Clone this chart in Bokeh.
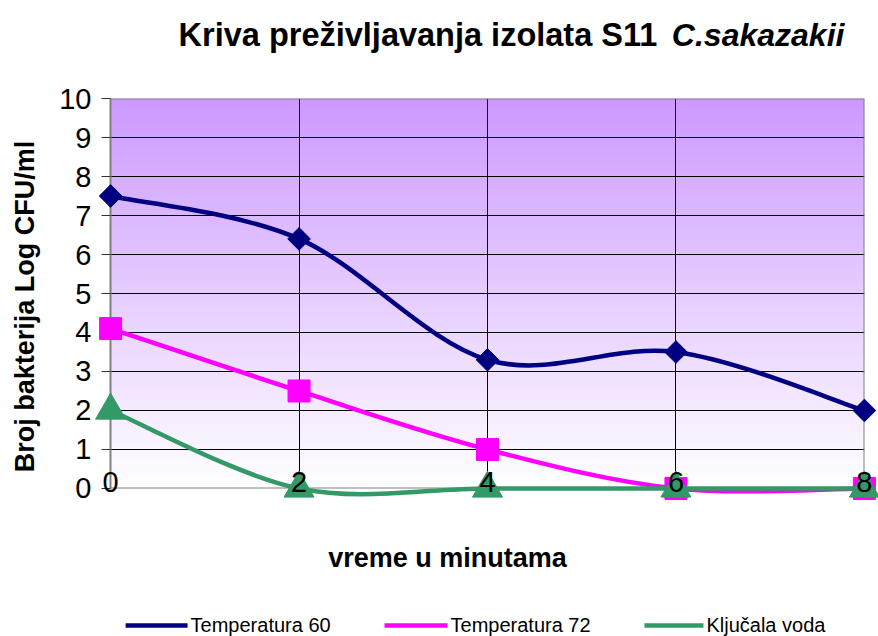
import numpy as np
from bokeh.plotting import figure
from bokeh.models import Range1d, Grid, FixedTicker
from bokeh.core.properties import value
from bokeh.embed import file_html
from bokeh.resources import INLINE

# ---------------- data ----------------
minutes = [0, 2, 4, 6, 8]
x_tick_labels = ["0", "2", "4", "6", "8"]
y_ticks = [0, 1, 2, 3, 4, 5, 6, 7, 8, 9, 10]
temp60 = [7.5, 6.4, 3.3, 3.5, 2.0]
temp72 = [4.1, 2.5, 1.0, 0.0, 0.0]
voda = [2.0, 0.0, 0.0, 0.0, 0.0]
series_names = ["Temperatura 60", "Temperatura 72", "Ključala voda"]
title_main = "Kriva preživljavanja izolata S11"
title_species = "C.sakazakii"
x_title = "vreme u minutama"
y_title = "Broj bakterija Log CFU/ml"

FONT = "Liberation Sans"
GRAY = "#808080"

# ---------------- layout (pixels) ----------------
W, H = 878, 636
FL, FR, FT, FB = 110, 864, 98, 488       # frame edges in page pixels
X0, X1, Y0, Y1 = 0.0, 8.0, 0.0, 10.0


def sx(px):  # page px -> data x
    return X0 + (px - FL) * (X1 - X0) / (FR - FL)


def sy(py):  # page px -> data y
    return Y0 + (FB - py) * (Y1 - Y0) / (FB - FT)


p = figure(width=W, height=H, output_backend="svg", toolbar_location=None,
           x_range=Range1d(X0 - 0.001, X1 + 0.001),
           y_range=Range1d(Y0 - 0.001, Y1 + 0.001),
           min_border_left=FL, min_border_right=W - FR, min_border_top=FT,
           min_border_bottom=H - FB, background_fill_color="white",
           border_fill_color="white", outline_line_color=None)

# gradient plot-area background (purple top -> white bottom)
n = 256
t = np.linspace(0.0, 1.0, n)
top = np.array([204, 153, 255], dtype=float)
bot = np.array([255, 255, 255], dtype=float)
rgb = bot + (top - bot) * t[:, None]
img = np.empty((n, 1), dtype=np.uint32)
view = img.view(dtype=np.uint8).reshape((n, 1, 4))
view[:, 0, 0:3] = np.round(rgb).astype(np.uint8)
view[:, 0, 3] = 255
p.image_rgba(image=[img], x=X0, y=Y0, dw=X1 - X0, dh=Y1 - Y0, level="image")

# grids
p.xgrid.ticker = FixedTicker(ticks=minutes[1:-1])
p.xgrid.grid_line_color = "black"
p.xgrid.grid_line_width = 1
p.ygrid.ticker = FixedTicker(ticks=y_ticks[1:-1])
p.ygrid.grid_line_color = "black"
p.ygrid.grid_line_width = 1
p.add_layout(Grid(dimension=1, ticker=FixedTicker(ticks=[y_ticks[0], y_ticks[-1]]),
                  grid_line_color=GRAY, grid_line_width=2))
p.add_layout(Grid(dimension=0, ticker=FixedTicker(ticks=[minutes[-1]]),
                  grid_line_color=GRAY, grid_line_width=2))

# y axis
p.yaxis.ticker = FixedTicker(ticks=y_ticks)
p.yaxis.axis_line_color = GRAY
p.yaxis.axis_line_width = 2
p.yaxis.major_tick_out = 9
p.yaxis.major_tick_in = 0
p.yaxis.major_tick_line_color = "#333333"
p.yaxis.minor_tick_line_color = None
p.yaxis.major_label_standoff = 10
p.yaxis.major_label_text_font = FONT
p.yaxis.major_label_text_font_size = "29px"
p.yaxis.major_label_text_color = "black"

# x axis (labels sit on the zero line, drawn on top of the series)
p.xaxis.ticker = FixedTicker(ticks=minutes)
p.xaxis.major_label_overrides = {m: s for m, s in zip(minutes, x_tick_labels)}
p.xaxis.axis_line_color = None
p.xaxis.major_tick_line_color = None
p.xaxis.minor_tick_line_color = None
p.xaxis.major_tick_out = 0
p.xaxis.major_tick_in = 0
p.xaxis.major_label_standoff = -17
p.xaxis.major_label_text_font = FONT
p.xaxis.major_label_text_font_size = "29px"
p.xaxis.major_label_text_color = "black"
p.xaxis.level = "overlay"


def bezier_source(xs, ys):
    n = len(xs)
    d = dict(x0=[], y0=[], x1=[], y1=[], cx0=[], cy0=[], cx1=[], cy1=[])
    for i in range(n - 1):
        a = max(i - 1, 0)
        b = min(i + 2, n - 1)
        d["x0"].append(xs[i]); d["y0"].append(ys[i])
        d["x1"].append(xs[i + 1]); d["y1"].append(ys[i + 1])
        d["cx0"].append(xs[i] + (xs[i + 1] - xs[a]) / 6.0)
        d["cy0"].append(ys[i] + (ys[i + 1] - ys[a]) / 6.0)
        d["cx1"].append(xs[i + 1] - (xs[b] - xs[i]) / 6.0)
        d["cy1"].append(ys[i + 1] - (ys[b] - ys[i]) / 6.0)
    return d


styles = [
    dict(color="#000080", marker="square", angle=np.pi / 4, size=16, lsize=7),
    dict(color="#FF00FF", marker="square", angle=0.0, size=22, lsize=9),
    dict(color="#339966", marker="triangle", angle=0.0, size=30, lsize=10),
]
values = [temp60, temp72, voda]

for vals, st in zip(values, styles):
    p.bezier(line_color=st["color"], line_width=4.5, level="annotation",
             **bezier_source(minutes, vals))
    p.scatter(minutes, vals, marker=st["marker"], angle=st["angle"],
              size=st["size"], fill_color=st["color"], line_color=st["color"],
              level="annotation")

# legend (drawn as glyphs so nothing is clipped by the frame)
leg_y = 625
leg_line_x = [(125, 187), (384, 447), (644, 703)]
for name, st, (a, b) in zip(series_names, styles, leg_line_x):
    p.segment(x0=[sx(a)], y0=[sy(leg_y)], x1=[sx(b)], y1=[sy(leg_y)],
              line_color=st["color"], line_width=4.5, level="overlay")
    p.scatter([sx((a + b) / 2)], [sy(leg_y)], marker=st["marker"],
              angle=st["angle"], size=st["lsize"], fill_color=st["color"],
              line_color=st["color"], level="overlay")
    p.text(x=[sx(b + 3)], y=[sy(leg_y)], text=[name], text_font=value(FONT),
           text_font_size="20px", text_align="left", text_baseline="middle",
           text_color="black", level="overlay")

# titles
p.text(x=[sx(178)], y=[sy(34)], text=[title_main], text_font=value(FONT),
       text_font_size="32.5px", text_font_style="bold", text_align="left",
       text_baseline="alphabetic", text_color="black", level="overlay")
p.text(x=[sx(844)], y=[sy(34)], text=[title_species], text_font=value(FONT),
       text_font_size="32px", text_font_style="bold italic", text_align="right",
       text_baseline="alphabetic", text_color="black", level="overlay")
p.text(x=[sx(447)], y=[sy(558)], text=[x_title], text_font=value(FONT),
       text_font_size="27px", text_font_style="bold", text_align="center",
       text_baseline="middle", text_color="black", level="overlay")
p.text(x=[sx(24)], y=[sy(306)], text=[y_title], text_font=value(FONT),
       text_font_size="27px", text_font_style="bold", angle=np.pi / 2,
       text_align="center", text_baseline="middle", text_color="black",
       level="overlay")

open("out.html", "w").write(file_html(p, INLINE))
